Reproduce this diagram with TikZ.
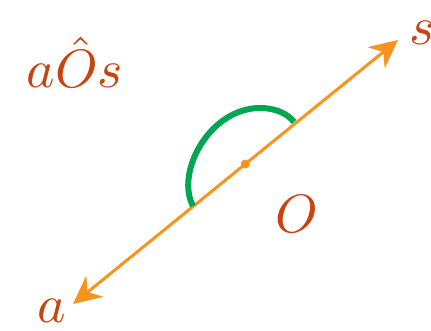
\documentclass[tikz,border=0pt]{standalone}
\usetikzlibrary{arrows.meta,calc}
\definecolor{rayorange}{HTML}{F7941D}
\definecolor{anglegreen}{HTML}{00A651}
\definecolor{labelred}{HTML}{C5440F}
\newcommand{\biglbl}[1]{\scalebox{5.4}{$#1$}}
\begin{document}
\begin{tikzpicture}[x=1pt,y=-1pt,
  ray/.style={draw=rayorange,line width=3pt,{Stealth[length=28pt,width=27pt,inset=9pt]}-{Stealth[length=28pt,width=27pt,inset=9pt]}},
  lbl/.style={text=labelred,inner sep=0pt},
  anglearc/.style={draw=anglegreen,line width=6pt}]
\useasboundingbox (0,0) rectangle (431,331);
\coordinate (A) at (73,304);
\coordinate (S) at (398,40);
\coordinate (O) at ($(A)!0.53!(S)$);
\draw[ray] (A) -- (S);
\fill[rayorange] (O) circle (4.5pt);
\coordinate (arcA) at (193,206);
\coordinate (arcTop) at (260,108);
\coordinate (arcS) at (294,122);
\draw[anglearc] (arcA) .. controls (175,172) and (210,108) .. (arcTop) .. controls (276,108) and (288,114) .. (arcS);
\node[lbl,anchor=base] (tA) at (52,322) {\biglbl{a}};
\node[lbl,anchor=base] (tS) at (422,45) {\biglbl{s}};
\node[lbl,anchor=base] (tO) at (297,233) {\biglbl{O}};
\node[lbl,anchor=base] (tAOS) at (75,88) {\biglbl{a\hat{O}s}};
\end{tikzpicture}
\end{document}
